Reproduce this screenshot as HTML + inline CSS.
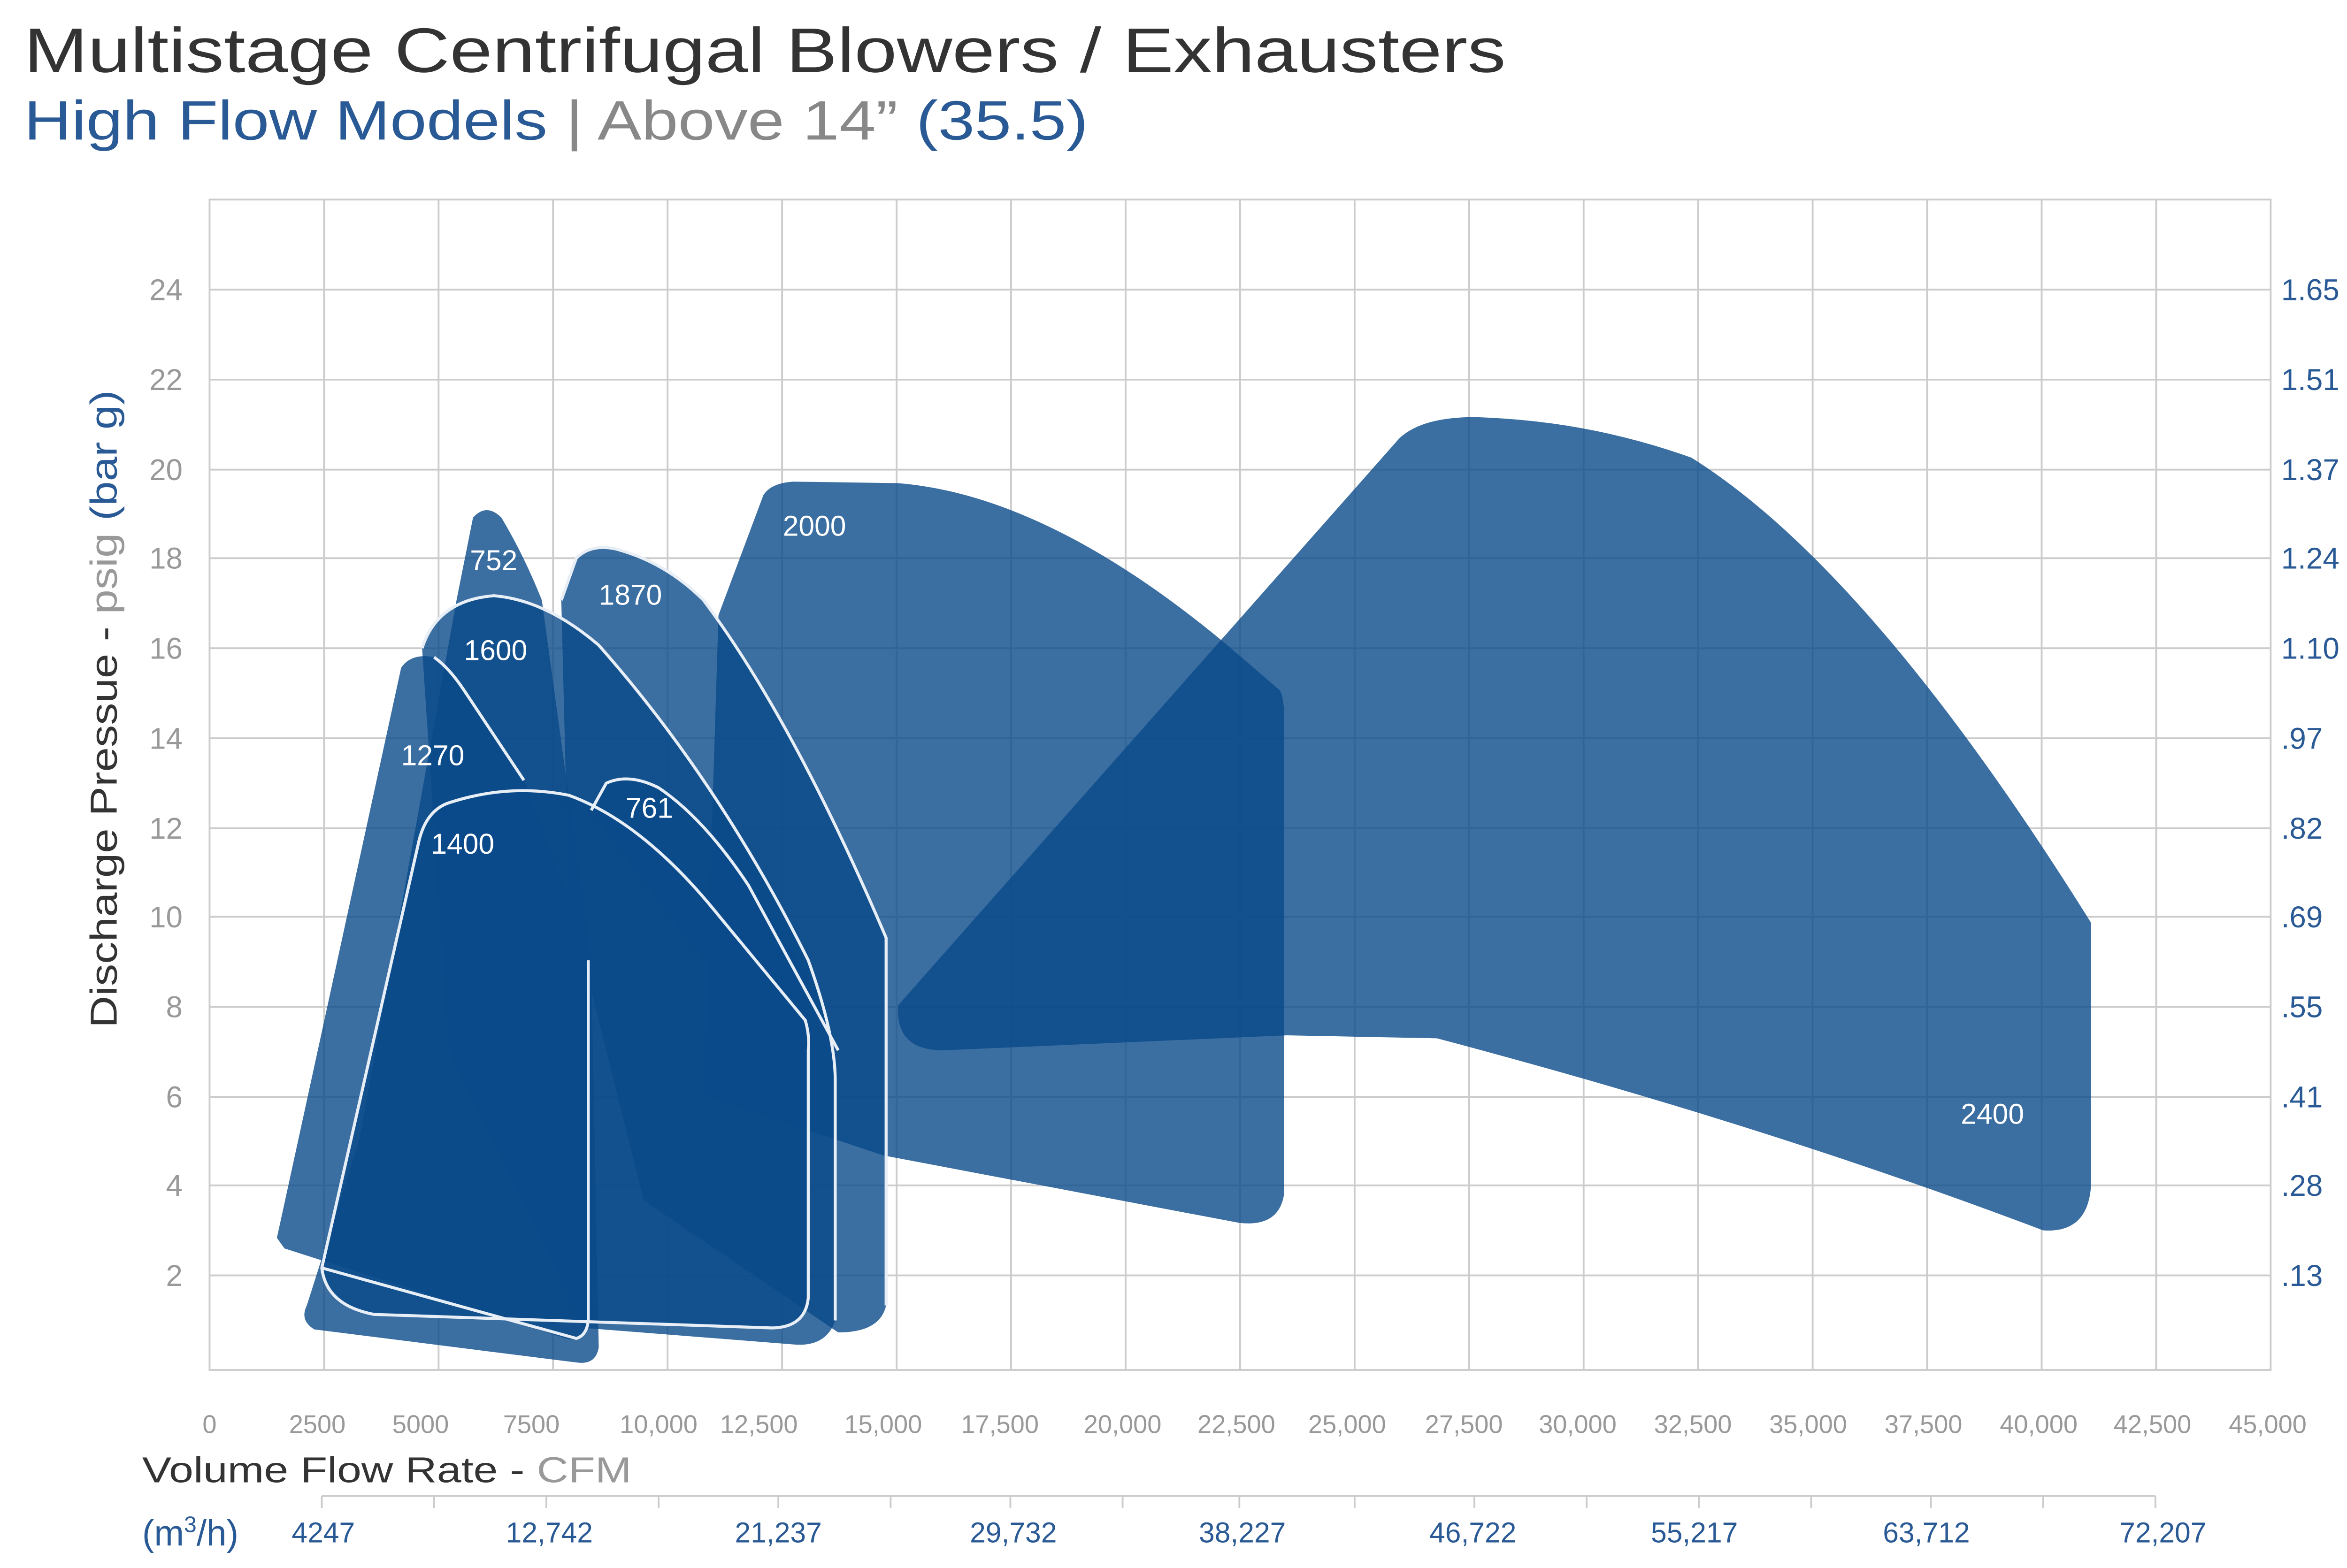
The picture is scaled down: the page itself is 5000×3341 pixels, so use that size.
<!DOCTYPE html>
<html><head><meta charset="utf-8"><style>
html,body{margin:0;padding:0;background:#fff;}
svg{display:block;}
text{font-family:"Liberation Sans",sans-serif;}
</style></head><body>
<svg width="5000" height="3341" viewBox="0 0 1568 1045" preserveAspectRatio="none" xmlns="http://www.w3.org/2000/svg">
<rect width="1568" height="1045" fill="#fff"/>
<text x="16" y="48" font-size="42" fill="#333" textLength="990" lengthAdjust="spacingAndGlyphs">Multistage Centrifugal Blowers / Exhausters</text>
<text x="16" y="93" font-size="37" textLength="711" lengthAdjust="spacingAndGlyphs"><tspan fill="#2a5a96">High Flow Models</tspan><tspan fill="#888"> | Above 14”</tspan><tspan fill="#2a5a96"> (35.5)</tspan></text>
<g stroke="#ccc" stroke-width="1.2" fill="none">
<rect x="140" y="133" width="1377" height="780"/>
<path d="M216.5 133V913M293 133V913M369.5 133V913M446 133V913M522.5 133V913M599 133V913M675.5 133V913M752 133V913M828.5 133V913M905 133V913M981.5 133V913M1058 133V913M1134.5 133V913M1211 133V913M1287.5 133V913M1364 133V913M1440.5 133V913"/>
<path d="M140 193H1517M140 253H1517M140 313H1517M140 372H1517M140 432H1517M140 492H1517M140 552H1517M140 611H1517M140 671H1517M140 731H1517M140 790H1517M140 850H1517"/>
</g>
<g fill="#0a4a8a" fill-opacity="0.8">
<path d="M600 670 L935 292 Q950 278 985 278 Q1060 280 1130 305 Q1250 380 1397 615 L1397 790 Q1395 822 1365 820 Q1180 750 960 692 L860 690 L630 700 Q598 700 600 670Z"/>
<path d="M480 410 L510 330 Q515 322 530 321 L600 322 Q700 330 820 430 L855 460 Q858 465 858 480 L858 795 Q855 818 828 815 L590 770 L470 730 Z"/>
<path d="M375 400 L385 372 Q395 362 412 366 Q445 375 470 400 Q530 480 592 625 L592 870 Q588 888 560 888 L430 800 L380 600 Z"/>
<path d="M305 400 L316 345 Q325 335 335 345 Q350 370 362 400 L395 640 L400 898 Q398 910 385 908 L210 886 Q200 880 205 870 L240 760 Z"/>
<path d="M282 432 Q292 400 330 397 Q365 400 400 430 Q480 520 540 640 Q558 690 558 720 L558 880 Q552 898 530 896 L390 885 L300 700 Z"/>
<path d="M185 825 L268 445 Q275 435 290 438 Q300 445 310 460 L350 520 L395 640 L393 885 Q390 895 378 892 L190 832 Z"/>
<path d="M215 845 L280 560 Q285 540 300 535 Q340 522 380 530 Q430 548 480 610 L538 680 Q541 690 540 700 L540 865 Q538 885 515 885 L250 876 Q218 870 215 845Z"/>
<path d="M395 540 L405 522 Q420 515 440 525 Q470 545 500 590 L540 650 L540 700 L470 640 Z"/>
</g>
<g fill="none" stroke="#e8eef6" stroke-width="2">
<path d="M375 400 L385 372 Q395 362 412 366 Q445 375 470 400 Q530 480 592 625 L592 870"/>
<path d="M282 432 Q292 400 330 397 Q365 400 400 430 Q480 520 540 640 Q558 690 558 720 L558 880"/>
<path d="M215 845 L280 560 Q285 540 300 535 Q340 522 380 530 Q430 548 480 610 L538 680 Q541 690 540 700 L540 865 Q538 885 515 885 L250 876 Q218 870 215 845Z"/>
<path d="M395 540 L405 522 Q420 515 440 525 Q470 545 500 590 L560 700"/>
<path d="M290 438 Q300 445 310 460 L350 520"/>
<path d="M215 845 L385 892 Q392 890 393 880 L393 640"/>
</g>
<g fill="#fff" font-size="19">
<text x="523" y="357">2000</text><text x="314" y="380">752</text><text x="400" y="403">1870</text>
<text x="310" y="440">1600</text><text x="268" y="510">1270</text><text x="418" y="545">761</text>
<text x="288" y="569">1400</text><text x="1310" y="749">2400</text>
</g>
<g fill="#999" font-size="20" text-anchor="end">
<text x="122" y="200">24</text><text x="122" y="260">22</text><text x="122" y="320">20</text><text x="122" y="379">18</text><text x="122" y="439">16</text><text x="122" y="499">14</text><text x="122" y="559">12</text><text x="122" y="618">10</text><text x="122" y="678">8</text><text x="122" y="738">6</text><text x="122" y="797">4</text><text x="122" y="857">2</text>
</g>
<g fill="#2a5a96" font-size="20">
<text x="1524" y="200">1.65</text><text x="1524" y="260">1.51</text><text x="1524" y="320">1.37</text><text x="1524" y="379">1.24</text><text x="1524" y="439">1.10</text><text x="1524" y="499">.97</text><text x="1524" y="559">.82</text><text x="1524" y="618">.69</text><text x="1524" y="678">.55</text><text x="1524" y="738">.41</text><text x="1524" y="797">.28</text><text x="1524" y="857">.13</text>
</g>
<text transform="translate(78,685) rotate(-90)" font-size="25" textLength="425" lengthAdjust="spacingAndGlyphs"><tspan fill="#333">Discharge Pressue - </tspan><tspan fill="#999">psig </tspan><tspan fill="#2a5a96">(bar g)</tspan></text>
<g fill="#999" font-size="17" text-anchor="middle">
<text x="140" y="955">0</text><text x="212" y="955">2500</text><text x="281" y="955">5000</text><text x="355" y="955">7500</text><text x="440" y="955">10,000</text><text x="507" y="955">12,500</text><text x="590" y="955">15,000</text><text x="668" y="955">17,500</text><text x="750" y="955">20,000</text><text x="826" y="955">22,500</text><text x="900" y="955">25,000</text><text x="978" y="955">27,500</text><text x="1054" y="955">30,000</text><text x="1131" y="955">32,500</text><text x="1208" y="955">35,000</text><text x="1285" y="955">37,500</text><text x="1362" y="955">40,000</text><text x="1438" y="955">42,500</text><text x="1515" y="955">45,000</text>
</g>
<text x="95" y="988" font-size="24" textLength="327" lengthAdjust="spacingAndGlyphs"><tspan fill="#333">Volume Flow Rate - </tspan><tspan fill="#999">CFM</tspan></text>
<g stroke="#ccc" stroke-width="1.2" fill="none"><path d="M215 997H1440M215 997V1005M290 997V1005M365 997V1005M440 997V1005M520 997V1005M595 997V1005M675 997V1005M750 997V1005M828 997V1005M905 997V1005M985 997V1005M1060 997V1005M1135 997V1005M1210 997V1005M1290 997V1005M1365 997V1005M1440 997V1005"/></g>
<text x="95" y="1030" font-size="24" fill="#2a5a96">(m<tspan font-size="15" dy="-9">3</tspan><tspan dy="9">/h)</tspan></text>
<g fill="#2a5a96" font-size="19" text-anchor="middle">
<text x="216" y="1028">4247</text><text x="367" y="1028">12,742</text><text x="520" y="1028">21,237</text><text x="677" y="1028">29,732</text><text x="830" y="1028">38,227</text><text x="984" y="1028">46,722</text><text x="1132" y="1028">55,217</text><text x="1287" y="1028">63,712</text><text x="1445" y="1028">72,207</text>
</g>
</svg>
</body></html>
